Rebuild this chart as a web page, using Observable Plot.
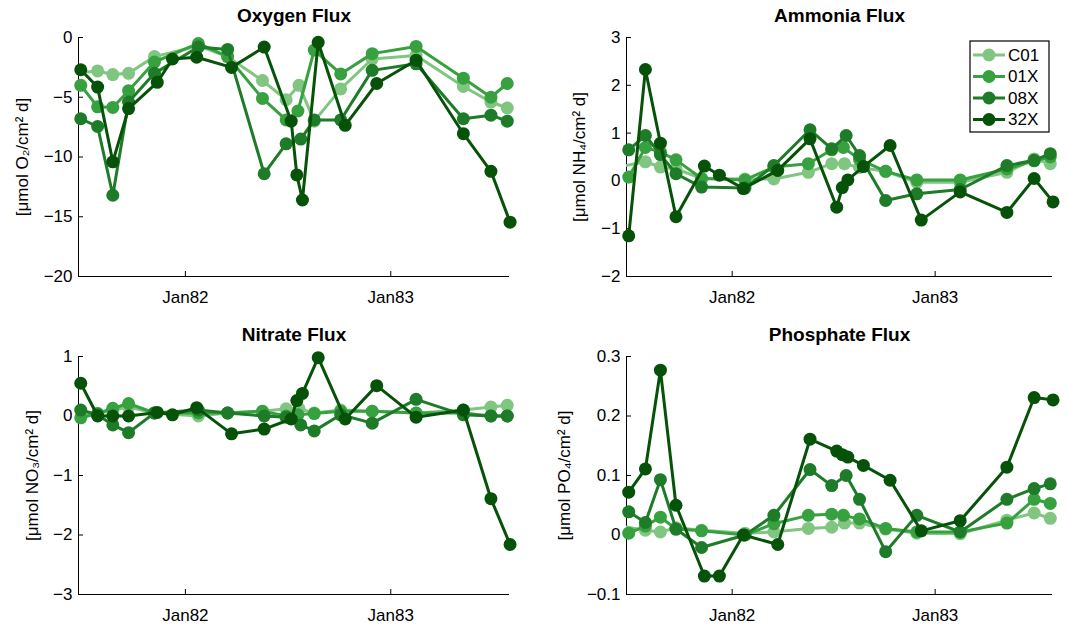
<!DOCTYPE html>
<html>
<head>
<meta charset="utf-8">
<script src="https://cdn.jsdelivr.net/npm/d3@7"></script>
<script src="https://cdn.jsdelivr.net/npm/@observablehq/plot@0.6"></script>
<style>
  body { margin: 0; background: #fff; }
  #chart { position: relative; width: 1067px; height: 624px; font-family: "Liberation Sans", Arial, Helvetica, sans-serif; }
  #chart > svg { position: absolute; overflow: visible; }
</style>
</head>
<body>
<div id="chart"></div>
<script>
// Tank series (mesocosm treatments) and their colours
const series = ["C01", "01X", "08X", "32X"];
const seriesColors = ["#80c580", "#36a13e", "#1e7b27", "#065209"];

// Sampling dates per tank
const datesC01 = ["1981-06-15","1981-07-29","1981-08-25","1981-09-22","1981-11-07","1982-01-24","1982-03-17","1982-05-18","1982-06-29","1982-07-22","1982-08-18","1982-10-04","1982-11-29","1983-02-15","1983-05-10","1983-06-28","1983-07-27"];
const dates01X = ["1981-06-29","1981-07-29","1981-08-25","1981-09-22","1981-11-07","1982-01-24","1982-03-17","1982-05-18","1982-06-29","1982-07-20","1982-08-18","1982-10-04","1982-11-29","1983-02-15","1983-05-10","1983-06-28","1983-07-27"];
const dates08X = ["1981-06-29","1981-07-29","1981-08-25","1981-09-22","1981-11-07","1982-01-24","1982-03-17","1982-05-21","1982-06-29","1982-07-25","1982-08-18","1982-10-04","1982-11-29","1983-02-15","1983-05-10","1983-06-28","1983-07-27"];
const dates32X = ["1981-06-29","1981-07-29","1981-08-25","1981-09-22","1981-11-12","1981-12-09","1982-01-21","1982-03-24","1982-05-21","1982-07-08","1982-07-18","1982-07-28","1982-08-25","1982-10-12","1982-12-07","1983-02-15","1983-05-10","1983-06-28","1983-08-01"];

// Oxygen flux, umol O2 / cm2 d
const oxygenC01 = [-3.0,-2.8,-3.1,-3.0,-1.6,-0.7,-1.6,-3.6,-5.2,-4.0,-7.0,-4.3,-1.8,-1.5,-4.1,-5.4,-5.9];
const oxygen01X = [-4.0,-5.8,-5.85,-4.45,-2.05,-0.5,-1.6,-5.1,-6.9,-6.15,-1.05,-3.05,-1.35,-0.75,-3.4,-5.0,-3.85];
const oxygen08X = [-6.8,-7.45,-13.2,-5.4,-3.0,-0.8,-1.0,-11.4,-8.9,-8.5,-6.9,-6.9,-2.75,-2.2,-6.8,-6.5,-7.0];
const oxygen32X = [-2.7,-4.15,-10.4,-5.95,-3.75,-1.8,-1.65,-2.5,-0.8,-7.0,-11.5,-13.6,-0.4,-7.35,-3.85,-1.9,-8.05,-11.2,-15.45];

// Ammonia flux, umol NH4 / cm2 d
const ammoniaC01 = [0.3,0.40,0.29,0.25,0.05,0.04,0.04,0.18,0.36,0.36,0.28,0.2,-0.03,-0.03,0.18,0.46,0.36];
const ammonia01X = [0.08,0.7,0.6,0.44,0.05,0.02,0.29,0.36,0.65,0.7,0.45,0.2,0.02,0.02,0.25,0.42,0.5];
const ammonia08X = [0.65,0.95,0.55,0.15,-0.13,-0.15,0.32,1.07,0.67,0.95,0.53,-0.41,-0.27,-0.18,0.32,0.43,0.57];
const ammonia32X = [-1.15,2.33,0.79,-0.75,0.31,0.12,-0.16,0.22,0.88,-0.55,-0.14,0.02,0.3,0.74,-0.82,-0.23,-0.66,0.05,-0.44];

// Nitrate flux, umol NO3 / cm2 d
const nitrateC01 = [0.0,0.04,0.1,0.15,0.05,0.0,0.05,0.08,0.12,0.12,0.05,0.1,0.08,0.05,0.1,0.15,0.18];
const nitrate01X = [-0.03,0.04,0.13,0.21,0.05,0.05,0.05,0.08,0.0,0.02,0.04,0.08,0.08,0.05,0.05,0.0,0.0];
const nitrate08X = [0.1,0.02,-0.15,-0.28,0.05,0.1,0.05,0.0,-0.02,-0.15,-0.25,0.02,-0.12,0.28,0.02,0.0,0.0];
const nitrate32X = [0.55,0.0,0.0,0.0,0.06,0.02,0.14,-0.3,-0.22,-0.05,0.26,0.38,0.98,-0.05,0.51,-0.02,0.1,-1.39,-2.16];

// Phosphate flux, umol PO4 / cm2 d
const phosphateC01 = [0.015,0.008,0.005,0.012,0.008,0.003,0.005,0.011,0.013,0.02,0.02,0.01,0.003,0.002,0.025,0.037,0.028];
const phosphate01X = [0.003,0.015,0.03,0.01,0.007,0.0,0.019,0.033,0.035,0.033,0.027,0.011,0.005,0.005,0.02,0.06,0.053];
const phosphate08X = [0.039,0.021,0.093,0.01,-0.021,0.0,0.033,0.11,0.083,0.1,0.06,-0.028,0.033,0.005,0.06,0.078,0.086];
const phosphate32X = [0.072,0.111,0.277,0.05,-0.069,-0.069,0.0,-0.016,0.161,0.141,0.135,0.131,0.117,0.092,0.007,0.024,0.114,0.231,0.227];

// Axis ticks
const oxygenTicks = [0, -5, -10, -15, -20];
const ammoniaTicks = [3, 2, 1, 0, -1, -2];
const nitrateTicks = [1, 0, -1, -2, -3];
const phosphateTicks = [0.3, 0.2, 0.1, 0, -0.1];
const timeTicks = ["1982-01-01", "1983-01-01"];
const timeDomain = ["1981-06-25", "1983-07-31"];

const parse = d3.utcParse("%Y-%m-%d");
const seriesDates = [datesC01, dates01X, dates08X, dates32X].map(a => a.map(parse));
const xDomain = timeDomain.map(parse);
const xTicks = timeTicks.map(parse);

const FONT = '"Liberation Sans", Arial, Helvetica, sans-serif';
const FS = 17;
const W = 533, H = 312;

const panels = [
  {title: "Oxygen Flux", label: "[μmol O₂/cm² d]", values: [oxygenC01, oxygen01X, oxygen08X, oxygen32X],
   yDomain: [-20, 0], ticks: oxygenTicks, left: 0, top: 0, labelX: 22},
  {title: "Ammonia Flux", label: "[μmol NH₄/cm² d]", values: [ammoniaC01, ammonia01X, ammonia08X, ammonia32X],
   yDomain: [-2, 3], ticks: ammoniaTicks, left: 533, top: 0, labelX: 579},
  {title: "Nitrate Flux", label: "[μmol NO₃/cm² d]", values: [nitrateC01, nitrate01X, nitrate08X, nitrate32X],
   yDomain: [-3, 1], ticks: nitrateTicks, left: 0, top: 312, labelX: 32},
  {title: "Phosphate Flux", label: "[μmol PO₄/cm² d]", values: [phosphateC01, phosphate01X, phosphate08X, phosphate32X],
   yDomain: [-0.1, 0.3], ticks: phosphateTicks, left: 533, top: 312, labelX: 564}
];

const chart = document.getElementById("chart");

for (const p of panels) {
  const isLeft = p.left === 0, isTop = p.top === 0;
  const margin = {
    left: isLeft ? 78 : 93,
    right: isLeft ? 24 : 14,
    top: isTop ? 37 : 44,
    bottom: isTop ? 36 : 30
  };

  const seriesMarks = series.flatMap((name, i) => {
    const rows = seriesDates[i].map((date, j) => ({series: name, date, value: p.values[i][j]}));
    const visible = rows.filter(d => d.date >= xDomain[0]);
    return [
      Plot.line(rows, {x: "date", y: "value", stroke: seriesColors[i], strokeWidth: 3, clip: true}),
      Plot.dot(visible, {x: "date", y: "value", r: 6.5, fill: seriesColors[i], stroke: "none"})
    ];
  });

  const svg = Plot.plot({
    width: W, height: H,
    marginLeft: margin.left, marginRight: margin.right,
    marginTop: margin.top, marginBottom: margin.bottom,
    style: {fontFamily: FONT, fontSize: FS + "px", color: "#000", background: "transparent"},
    x: {type: "utc", domain: xDomain},
    y: {domain: p.yDomain},
    marks: [
      Plot.axisY({ticks: p.ticks, tickSize: -5, tickPadding: 11, tickFormat: d3.format(""), label: null, fontSize: FS}),
      Plot.axisX({ticks: xTicks, tickSize: -5, tickPadding: 19, tickFormat: d3.utcFormat("%b%y"), label: null, fontSize: FS}),
      Plot.ruleX([xDomain[0]], {stroke: "#000", strokeWidth: 1}),
      Plot.ruleY([p.yDomain[0]], {stroke: "#000", strokeWidth: 1}),
      ...seriesMarks,
      Plot.text([p.title], {frameAnchor: "top", lineAnchor: "middle", dy: -22, fontWeight: "bold", fontSize: 19, fill: "#000"}),
      Plot.text([p.label], {frameAnchor: "left", textAnchor: "middle", lineAnchor: "middle",
        dx: p.labelX - p.left - margin.left, rotate: -90, fontSize: FS, fill: "#000"})
    ]
  });
  svg.style.left = p.left + "px";
  svg.style.top = p.top + "px";
  chart.appendChild(svg);
}

// Legend for the tank series, inside the ammonia panel
const legend = d3.select(chart).append("svg")
  .attr("width", 82).attr("height", 94)
  .style("left", "969px").style("top", "40px");
legend.append("rect")
  .attr("x", 1).attr("y", 1).attr("width", 79).attr("height", 91)
  .attr("fill", "#fff").attr("stroke", "#000").attr("stroke-width", 1.2);
series.forEach((name, i) => {
  const g = legend.append("g").attr("transform", `translate(0,${15 + i * 21.5})`);
  g.append("line").attr("x1", 4).attr("x2", 36).attr("y1", 0).attr("y2", 0)
    .attr("stroke", seriesColors[i]).attr("stroke-width", 3);
  g.append("circle").attr("cx", 20).attr("cy", 0).attr("r", 6.5).attr("fill", seriesColors[i]);
  g.append("text").attr("x", 39).attr("y", 0).attr("dy", "0.35em")
    .attr("font-family", FONT).attr("font-size", FS).text(name);
});
</script>
</body>
</html>
